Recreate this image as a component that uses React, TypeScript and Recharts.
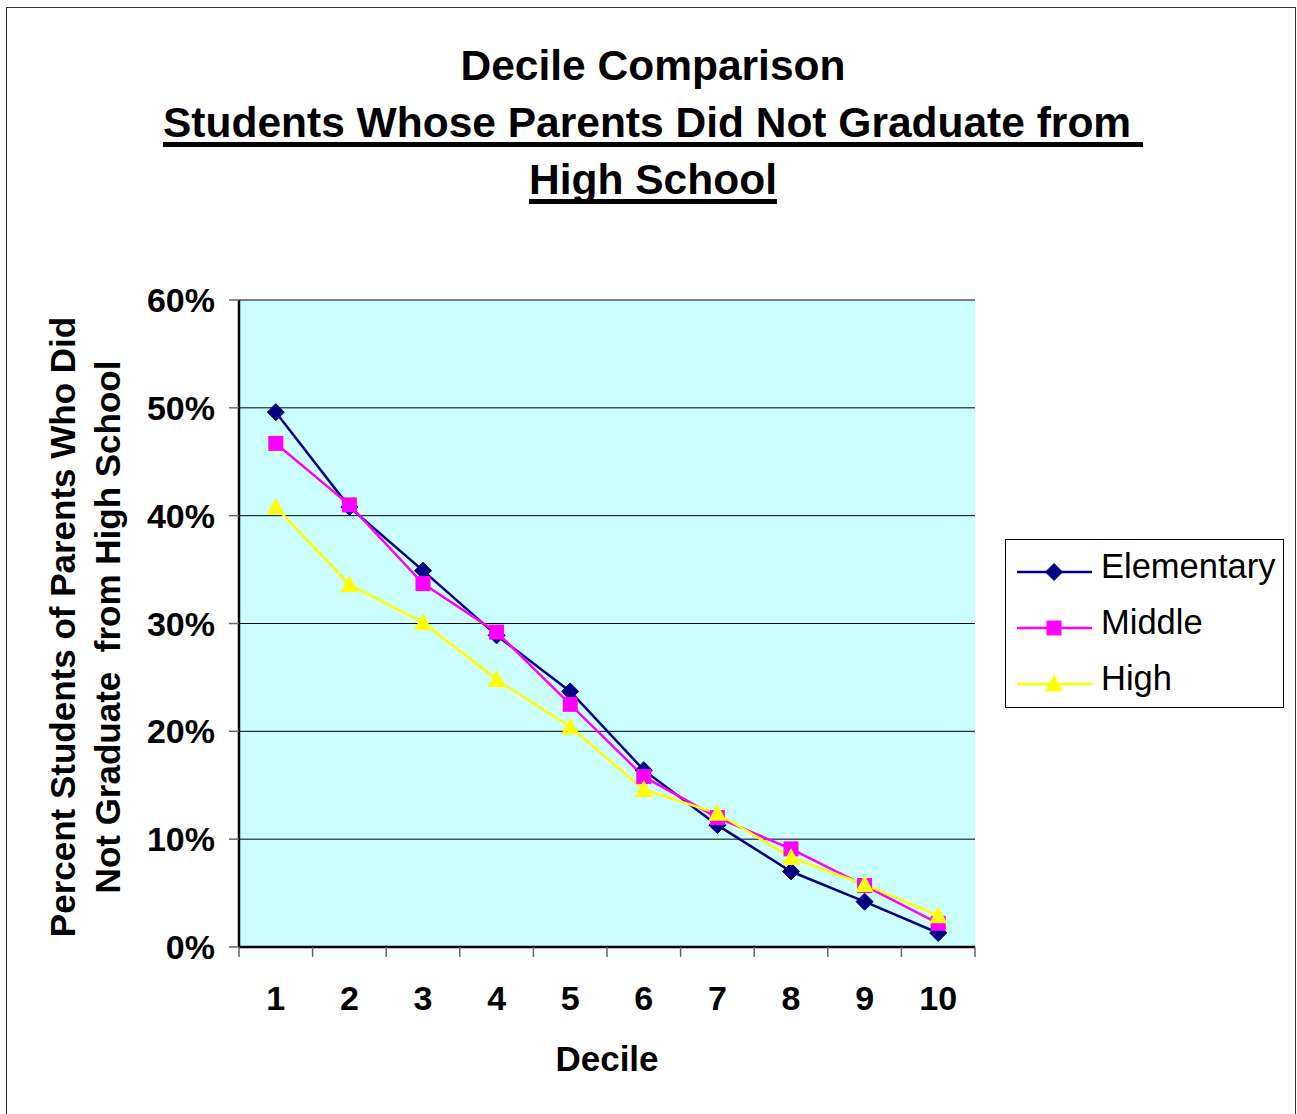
import React from 'react';
import { LineChart, Line, XAxis, YAxis, CartesianGrid } from 'recharts';

const deciles = [1, 2, 3, 4, 5, 6, 7, 8, 9, 10];
const elementary = [49.6, 40.8, 34.9, 28.9, 23.7, 16.4, 11.3, 7.0, 4.2, 1.3];
const middle = [46.7, 41.0, 33.7, 29.2, 22.5, 15.8, 12.0, 9.1, 5.7, 2.2];
const high = [40.8, 33.6, 30.1, 24.8, 20.4, 14.6, 12.4, 8.3, 5.8, 2.9];
const yTicks = [0, 10, 20, 30, 40, 50, 60];
const boundaryTicks = [0.5, 1.5, 2.5, 3.5, 4.5, 5.5, 6.5, 7.5, 8.5, 9.5, 10.5];

const seriesNames = ['Elementary', 'Middle', 'High'];
const seriesColors = ['#000080', '#FF00FF', '#FFFF00'];

const data = deciles.map((d, i) => ({
  decile: d,
  Elementary: elementary[i],
  Middle: middle[i],
  High: high[i],
}));

const FONT = '"Liberation Sans", Arial, Helvetica, sans-serif';

function Marker({ kind, cx, cy }: { kind: number; cx: number; cy: number }) {
  if (kind === 0) {
    return (
      <polygon
        points={`${cx},${cy - 8.5} ${cx + 8.5},${cy} ${cx},${cy + 8.5} ${cx - 8.5},${cy}`}
        fill="#000080"
        stroke="#000080"
        strokeWidth={1}
      />
    );
  }
  if (kind === 1) {
    return <rect x={cx - 7.5} y={cy - 7.5} width={15} height={15} fill="#FF00FF" />;
  }
  return (
    <polygon
      points={`${cx},${cy - 9.5} ${cx + 9},${cy + 7.5} ${cx - 9},${cy + 7.5}`}
      fill="#FFFF00"
    />
  );
}

const makeDot = (kind: number) => (props: any) => {
  const { cx, cy, index } = props;
  if (cx == null || cy == null) return <g key={`d-${kind}-${index}`} />;
  return (
    <g key={`d-${kind}-${index}`}>
      <Marker kind={kind} cx={cx} cy={cy} />
    </g>
  );
};

export default function App() {
  return (
    <div
      style={{
        position: 'absolute',
        left: 0,
        top: 0,
        width: 1297,
        height: 1114,
        background: '#fff',
        overflow: 'hidden',
        fontFamily: FONT,
      }}
    >
      <div
        style={{
          position: 'absolute',
          left: 6,
          top: 7,
          width: 1288,
          height: 1200,
          border: '1px solid #333',
        }}
      />
      {/* Title */}
      {[
        { text: 'Decile Comparison', u: false, top: 37 },
        { text: 'Students Whose Parents Did Not Graduate from ', u: true, top: 94 },
        { text: 'High School', u: true, top: 151 },
      ].map((l, i) => (
        <div
          key={i}
          style={{
            position: 'absolute',
            left: 0,
            top: l.top,
            width: 1306,
            textAlign: 'center',
            fontSize: 42.5,
            lineHeight: '57px',
            fontWeight: 'bold',
            whiteSpace: 'pre',
            color: '#000',
          }}
        >
          <span
            style={{
              textDecoration: l.u ? 'underline' : 'none',
              textDecorationThickness: '5px',
              textUnderlineOffset: '5px',
              textDecorationSkipInk: 'none',
            } as any}
          >
            {l.text}
          </span>
        </div>
      ))}

      <div style={{ position: 'absolute', left: 0, top: 0 }}>
        <LineChart
          width={1297}
          height={1114}
          data={data}
          margin={{ top: 300, right: 322, left: 139, bottom: 43 }}
        >
          <CartesianGrid
            xAxisId="labels"
            yAxisId={0}
            vertical={false}
            fill="#CCFFFF"
            fillOpacity={1}
            stroke="#000"
            strokeWidth={1}
          />
          <XAxis
            xAxisId="b"
            type="number"
            dataKey="decile"
            domain={[0.5, 10.5]}
            ticks={boundaryTicks}
            interval={0}
            height={10}
            tickSize={10}
            tickFormatter={() => ''}
            tickLine={{ stroke: '#666', strokeWidth: 1.5 }}
            axisLine={{ stroke: '#000', strokeWidth: 2.5 }}
            allowDataOverflow
          />
          <XAxis
            xAxisId="labels"
            type="number"
            dataKey="decile"
            domain={[0.5, 10.5]}
            ticks={deciles}
            interval={0}
            height={114}
            tickSize={0}
            tickMargin={29}
            axisLine={false}
            tickLine={false}
            tick={{ fill: '#000', fontSize: 34, fontWeight: 'bold', fontFamily: FONT }}
            label={{
              value: 'Decile',
              position: 'insideBottom',
              offset: 0,
              fill: '#000',
              fontSize: 35,
              fontWeight: 'bold',
              fontFamily: FONT,
            }}
            allowDataOverflow
          />
          <XAxis
            xAxisId="top"
            orientation="top"
            type="number"
            domain={[0, 1]}
            height={0}
            tick={false}
            tickLine={false}
            axisLine={{ stroke: '#000', strokeWidth: 2.5 }}
          />
          <YAxis
            yAxisId={0}
            type="number"
            domain={[0, 60]}
            ticks={yTicks}
            interval={0}
            width={100}
            tickSize={10}
            tickMargin={14}
            tickFormatter={(v: number) => `${v}%`}
            tickLine={{ stroke: '#666', strokeWidth: 1.5 }}
            axisLine={{ stroke: '#000', strokeWidth: 2.5 }}
            tick={{ fill: '#000', fontSize: 34, fontWeight: 'bold', fontFamily: FONT }}
          />
          <YAxis
            yAxisId="r"
            orientation="right"
            type="number"
            domain={[0, 1]}
            width={0}
            tick={false}
            tickLine={false}
            axisLine={{ stroke: '#000', strokeWidth: 2.5 }}
          />
          {seriesNames.map((name, k) => (
            <Line
              key={name}
              xAxisId="labels"
              yAxisId={0}
              type="linear"
              dataKey={name}
              stroke={seriesColors[k]}
              strokeWidth={2.5}
              dot={makeDot(k)}
              activeDot={false}
              isAnimationActive={false}
            />
          ))}
        </LineChart>
      </div>

      {/* Y axis title */}
      <svg
        width={200}
        height={1114}
        style={{ position: 'absolute', left: 0, top: 0, overflow: 'visible' }}
      >
        <text
          x={75}
          y={627}
          transform="rotate(-90 75 627)"
          textAnchor="middle"
          fontFamily={FONT}
          fontWeight="bold"
          fontSize={35}
          fill="#000"
        >
          Percent Students of Parents Who Did
        </text>
        <text
          x={120}
          y={627}
          transform="rotate(-90 120 627)"
          textAnchor="middle"
          fontFamily={FONT}
          fontWeight="bold"
          fontSize={35}
          fill="#000"
          style={{ whiteSpace: 'pre' }}
        >
          {'Not Graduate  from High School'}
        </text>
      </svg>

      {/* Legend */}
      <div
        style={{
          position: 'absolute',
          left: 1005,
          top: 539,
          width: 279,
          height: 169,
          border: '1px solid #000',
          background: '#fff',
          boxSizing: 'border-box',
        }}
      >
        {seriesNames.map((name, k) => (
          <div
            key={name}
            style={{ position: 'absolute', left: 0, top: 6 + k * 56, height: 56, width: 279 }}
          >
            <svg
              width={90}
              height={56}
              style={{ position: 'absolute', left: 11, top: 0 }}
            >
              <line x1={0} y1={26} x2={75} y2={26} stroke={seriesColors[k]} strokeWidth={2.5} />
              <Marker kind={k} cx={37} cy={26} />
            </svg>
            <div
              style={{
                position: 'absolute',
                left: 95,
                top: -8,
                lineHeight: '56px',
                fontSize: 34.5,
                color: '#000',
                whiteSpace: 'nowrap',
              }}
            >
              {name}
            </div>
          </div>
        ))}
      </div>
    </div>
  );
}
